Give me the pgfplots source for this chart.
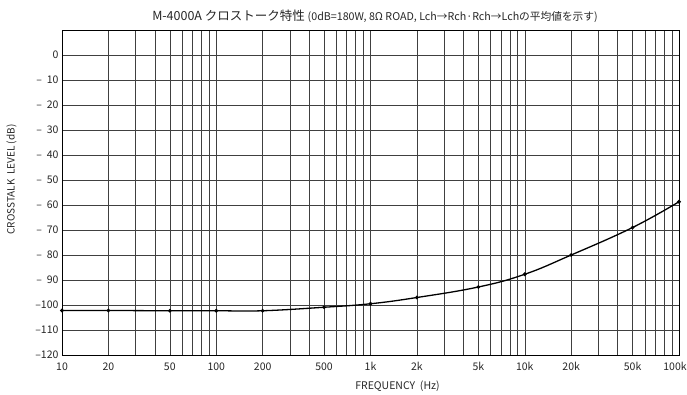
\documentclass[border=0pt]{standalone}
\usepackage{fontspec}
\setmainfont{Noto Sans CJK JP}
\usepackage{pgfplots}
\pgfplotsset{compat=1.18}
\begin{document}
\begin{tikzpicture}[x=1pt,y=1pt]
\path[use as bounding box] (0,0) rectangle (687,394);
\begin{axis}[
  at={(62pt,39pt)}, anchor=south west,
  scale only axis, width=617pt, height=325pt,
  xmode=log, log basis x=10,
  xmin=10, xmax=100000, ymin=-120, ymax=10,
  xtick={10,20,50,100,200,500,1000,2000,5000,10000,20000,50000,100000},
  xticklabels={10,20,50,100,200,500,1k,2k,5k,10k,20k,50k,{\kern-8pt 100k}},
  minor xtick={30,40,60,70,80,90,300,400,600,700,800,900,3000,4000,6000,7000,8000,9000,30000,40000,60000,70000,80000,90000},
  ytick={-120,-110,-100,-90,-80,-70,-60,-50,-40,-30,-20,-10,0},
  yticklabels={{--120},{--110},{--100},{--\ \ 90},{--\ \ 80},{--\ \ 70},{--\ \ 60},{--\ \ 50},{--\ \ 40},{--\ \ 30},{--\ \ 20},{--\ \ 10},0},
  grid=both,
  major grid style={black!75, line width=0.5pt},
  minor grid style={black!75, line width=0.5pt},
  major tick length=0pt, minor tick length=0pt,
  axis line style={black, line width=0.8pt},
  tick label style={font=\fontsize{10.5}{12}\selectfont, text=black!85},
  xticklabel style={yshift=-4pt},
  xlabel={FREQUENCY\ \ (Hz)},
  xlabel style={font=\fontsize{10.5}{12}\selectfont, text=black!85, yshift=-3pt, xshift=27pt},
  ylabel={CROSSTALK\ \ LEVEL (dB)},
  ylabel style={font=\fontsize{10}{12}\selectfont, text=black!85, yshift=12pt, xshift=13pt},
  clip=false,
]
\addplot[black, line width=1.3pt, smooth, tension=0.7, mark=*, mark size=1.1pt] coordinates {
  (10,-102.2) (20,-102.2) (50,-102.3) (100,-102.3) (200,-102.3) (500,-100.9)
  (1000,-99.5) (2000,-97.0) (5000,-92.8) (10000,-87.7) (20000,-80.0)
  (50000,-69.0) (100000,-58.7)
};
\end{axis}
\node[font=\fontsize{12.5}{14}\selectfont, text=black!85] at (375,378) {M-4000A\ クロストーク特性\ {\fontsize{10.7}{12}\selectfont (0dB=180W, 8Ω ROAD, Lch→Rch·Rch→Lchの平均値を示す)}};
\end{tikzpicture}
\end{document}
